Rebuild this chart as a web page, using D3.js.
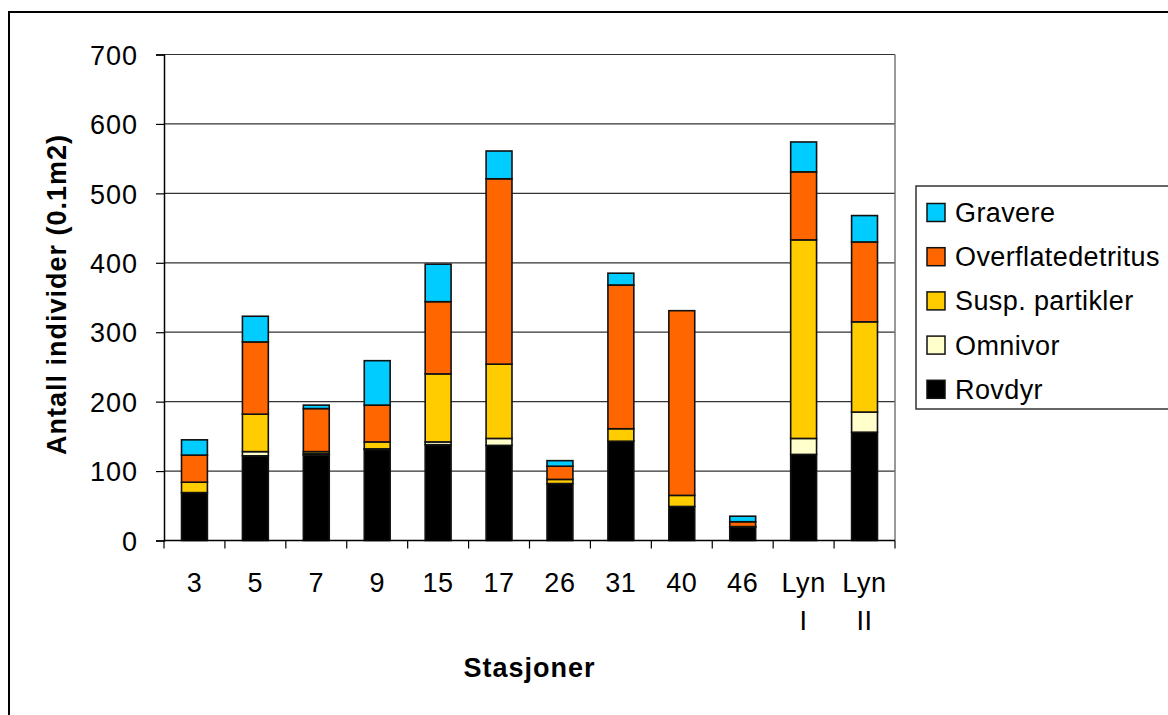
<!DOCTYPE html>
<html>
<head>
<meta charset="utf-8">
<script src="https://cdn.jsdelivr.net/npm/d3@7"></script>
<style>
  html, body { margin: 0; padding: 0; background: #fff; }
  svg text { font-family: Arial, "Liberation Sans", sans-serif; fill: #000; }
</style>
</head>
<body>
<svg id="chart" width="1168" height="715"></svg>
<script>
// Stations along the x axis
const stations = ["3", "5", "7", "9", "15", "17", "26", "31", "40", "46", "Lyn I", "Lyn II"];

// Individuals per 0.1 m2, by feeding group
const rovdyr    = [69, 122, 123, 131, 138, 137, 82, 143, 49, 19, 124, 156];
const omnivor   = [0, 6, 2, 1, 4, 10, 0, 0, 0, 0, 23, 29];
const susp      = [15, 54, 3, 10, 98, 107, 6, 18, 16, 1, 286, 130];
const overflate = [39, 104, 62, 53, 104, 267, 19, 207, 266, 7, 98, 115];
const gravere   = [22, 37, 5, 64, 54, 40, 8, 17, 0, 8, 43, 38];

const yTicks = [0, 100, 200, 300, 400, 500, 600, 700];

// Stacking order, bottom to top
const seriesNames  = ["Rovdyr", "Omnivor", "Susp. partikler", "Overflatedetritus", "Gravere"];
const seriesValues = [rovdyr, omnivor, susp, overflate, gravere];
const seriesColors = ["#000000", "#FFFFCC", "#FFCC00", "#FF6600", "#00CCFF"];

const rows = stations.map((s, i) => {
  const r = { station: s };
  seriesNames.forEach((n, k) => { r[n] = seriesValues[k][i]; });
  return r;
});

const svg = d3.select("#chart");

// Outer chart border
svg.append("rect")
  .attr("x", 9).attr("y", 12)
  .attr("width", 1200).attr("height", 720)
  .attr("fill", "none").attr("stroke", "#000").attr("stroke-width", 2);

const plot = { left: 164, right: 895, top: 54.5, bottom: 540.5 };

const x = d3.scaleBand()
  .domain(stations)
  .range([plot.left, plot.right])
  .paddingInner(0.575)
  .paddingOuter(0.2875);

const xCat = d3.scaleBand()
  .domain(stations)
  .range([plot.left, plot.right]);

const y = d3.scaleLinear()
  .domain([0, 700])
  .range([plot.bottom, plot.top]);

// Horizontal gridlines
svg.append("g")
  .selectAll("line")
  .data(yTicks.slice(1))
  .join("line")
  .attr("x1", plot.left).attr("x2", plot.right)
  .attr("y1", d => y(d)).attr("y2", d => y(d))
  .attr("stroke", "#333").attr("stroke-width", 1.2);

// Plot area right edge
svg.append("line")
  .attr("x1", plot.right).attr("x2", plot.right)
  .attr("y1", plot.top).attr("y2", plot.bottom)
  .attr("stroke", "#777").attr("stroke-width", 1.5);

// Stacked bars
const stack = d3.stack().keys(seriesNames);
const layers = stack(rows);

svg.append("g")
  .selectAll("g")
  .data(layers)
  .join("g")
  .attr("fill", (d, i) => seriesColors[i])
  .selectAll("rect")
  .data(d => d.filter(p => p[1] - p[0] > 0))
  .join("rect")
  .attr("x", d => x(d.data.station))
  .attr("width", x.bandwidth())
  .attr("y", d => y(d[1]))
  .attr("height", d => y(d[0]) - y(d[1]))
  .attr("stroke", "#111")
  .attr("stroke-width", 1.6);

// Y axis
const yAxis = d3.axisLeft(y)
  .tickValues(yTicks)
  .tickSize(8)
  .tickPadding(18)
  .tickFormat(d3.format("d"));

const gy = svg.append("g")
  .attr("transform", `translate(${plot.left},0)`)
  .call(yAxis);
gy.select(".domain").attr("stroke", "#000").attr("stroke-width", 1.5);
gy.selectAll(".tick line").attr("stroke", "#000").attr("stroke-width", 1.2);
gy.selectAll(".tick text")
  .attr("font-size", 27)
  .attr("letter-spacing", "1px")
  .attr("dy", "0.36em");

// X axis: ticks on category boundaries
const gx = svg.append("g");
gx.append("line")
  .attr("x1", plot.left).attr("x2", plot.right)
  .attr("y1", plot.bottom).attr("y2", plot.bottom)
  .attr("stroke", "#000").attr("stroke-width", 1.5);
const boundaries = stations.map(s => xCat(s)).concat([plot.right]);
gx.selectAll("line.tick")
  .data(boundaries)
  .join("line")
  .attr("class", "tick")
  .attr("x1", d => d).attr("x2", d => d)
  .attr("y1", plot.bottom).attr("y2", plot.bottom + 8)
  .attr("stroke", "#000").attr("stroke-width", 1.2);

gx.selectAll("text.lbl")
  .data(stations)
  .join("text")
  .attr("class", "lbl")
  .attr("text-anchor", "middle")
  .attr("font-size", 27)
  .attr("letter-spacing", "0.6px")
  .attr("x", d => xCat(d) + xCat.bandwidth() / 2)
  .attr("y", 592)
  .each(function (d) {
    const parts = d.split(" ");
    d3.select(this).selectAll("tspan")
      .data(parts)
      .join("tspan")
      .attr("x", xCat(d) + xCat.bandwidth() / 2)
      .attr("dy", (p, i) => i === 0 ? 0 : 38)
      .text(p => p);
  });

// Axis titles
svg.append("text")
  .attr("x", (plot.left + plot.right) / 2)
  .attr("y", 677)
  .attr("text-anchor", "middle")
  .attr("font-size", 27)
  .attr("font-weight", "bold")
  .attr("letter-spacing", "1px")
  .text("Stasjoner");

svg.append("text")
  .attr("transform", `translate(66,${(plot.top + plot.bottom) / 2 - 3}) rotate(-90)`)
  .attr("text-anchor", "middle")
  .attr("font-size", 27)
  .attr("font-weight", "bold")
  .attr("letter-spacing", "1px")
  .text("Antall individer (0.1m2)");

// Legend
const legend = svg.append("g");
legend.append("rect")
  .attr("x", 916).attr("y", 186)
  .attr("width", 300).attr("height", 223)
  .attr("fill", "#fff").attr("stroke", "#333").attr("stroke-width", 1.5);

const legendOrder = [4, 3, 2, 1, 0];
const items = legend.selectAll("g.item")
  .data(legendOrder)
  .join("g")
  .attr("class", "item")
  .attr("transform", (k, i) => `translate(927,${212.5 + i * 44.2})`);

items.append("rect")
  .attr("x", 0).attr("y", -9)
  .attr("width", 18).attr("height", 18)
  .attr("fill", k => seriesColors[k])
  .attr("stroke", "#111").attr("stroke-width", 1.5);

items.append("text")
  .attr("x", 28)
  .attr("y", 9.5)
  .attr("font-size", 27)
  .attr("letter-spacing", "0.4px")
  .text(k => seriesNames[k]);
</script>
</body>
</html>
